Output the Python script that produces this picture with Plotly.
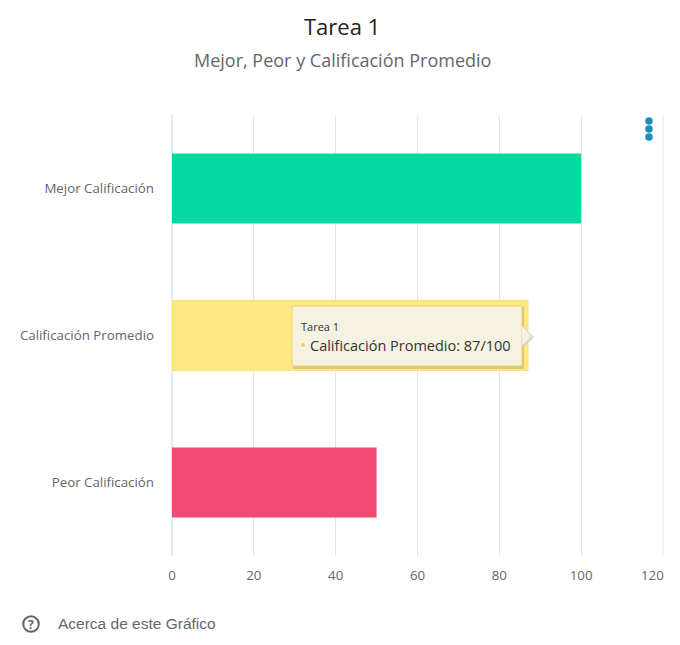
import plotly.graph_objects as go

categories = ['Mejor Calificación', 'Calificación Promedio', 'Peor Calificación']
scores = [100, 87, 50]
bar_colors = ['#06d8a1', '#ffe880', '#f24a72']
bar_edges = ['#06d8a1', '#fbe07a', '#f24a72']
bar_edge_widths = [0, 1, 0]
x_ticks = [0, 20, 40, 60, 80, 100, 120]
x_tick_labels = ['0', '20', '40', '60', '80', '100', '']

W, H = 680, 645
L, R, T, B = 172, 663, 115, 556


# pixel position in the page -> paper coordinates
def px(x):
    return (x - L) / (R - L)


def py(y):
    return (B - y) / (B - T)


def text(x, y, s, size, color, family='Open Sans', anchor='left'):
    return dict(x=px(x), y=py(y), xref='paper', yref='paper', text=s, showarrow=False, xanchor=anchor,
                yanchor='middle', borderpad=0, borderwidth=0, font=dict(size=size, color=color, family=family))


def rect(x0, y0, x1, y1, fill, line=None):
    return dict(type='rect', xref='paper', yref='paper', x0=px(x0), x1=px(x1), y0=py(y0), y1=py(y1),
                fillcolor=fill, line=dict(color=line or fill, width=1 if line else 0), layer='above')


def dot(x, y, r, fill, line=None, width=0):
    return dict(type='circle', xref='paper', yref='paper', x0=px(x - r), x1=px(x + r), y0=py(y - r), y1=py(y + r),
                fillcolor=fill, line=dict(color=line or fill, width=width), layer='above')


def tri(points, fill):
    d = 'M ' + ' L '.join(f'{px(a):.5f} {py(b):.5f}' for a, b in points) + ' Z'
    return dict(type='path', xref='paper', yref='paper', path=d, fillcolor=fill, line=dict(width=0), layer='above')


def vline(pos, color):
    return dict(type='line', xref='paper', yref='paper', x0=pos, x1=pos, y0=0, y1=1,
                line=dict(color=color, width=1), layer='below')


fig = go.Figure(go.Bar(y=categories, x=scores, orientation='h', width=0.475,
                       marker=dict(color=bar_colors, line=dict(color=bar_edges, width=bar_edge_widths)),
                       hoverinfo='skip'))

shapes = [
    vline(0, '#c8d6e6'),
    vline(1, '#e2e6ea'),
    # tooltip shadow + box + pointer
    tri([(524, 327), (534, 337), (524, 347)], '#d8d8d0'),
    rect(293, 307, 524, 369, '#dcc66e'),
    rect(292, 306, 522, 366, '#f6f2e2', '#eccf70'),
    tri([(522, 326), (531, 336), (522, 346)], '#f6f2e2'),
    dot(303, 345, 2, '#f5c86a'),
    # menu dots
    dot(649, 121, 3.8, '#1a8fb8'),
    dot(649, 129, 3.8, '#1a8fb8'),
    dot(649, 137, 3.8, '#1a8fb8'),
    # help icon
    dot(31, 624, 7.8, '#ffffff', '#666666', 2),
]

annotations = [
    text(342, 26, 'Tarea 1', 22, '#222222', anchor='center'),
    text(342, 60, 'Mejor, Peor y Calificación Promedio', 18, '#666666', anchor='center'),
    text(301, 326, 'Tarea 1', 11, '#333333'),
    text(310, 345, 'Calificación Promedio: 87/100', 14.5, '#333333'),
    text(31, 624, '<b>?</b>', 12, '#666666', anchor='center'),
    text(58, 623, 'Acerca de este Gráfico', 15.5, '#666666', family='Liberation Sans'),
    text(652, 575, '120', 13.3, '#666666', anchor='center'),
]

fig.update_layout(
    width=W, height=H, margin=dict(l=L, r=W - R, t=T, b=H - B, autoexpand=False), autosize=False,
    paper_bgcolor='white', plot_bgcolor='white', showlegend=False,
    font=dict(family='Open Sans', size=13.3, color='#666666'),
    shapes=shapes, annotations=annotations,
    xaxis=dict(range=[0, 120], tickmode='array', tickvals=x_ticks, ticktext=x_tick_labels, showgrid=True,
               gridcolor='#e2e6ea', gridwidth=1, zeroline=False, showline=False, ticks='',
               tickfont=dict(size=13.3, color='#666666'), ticklabelstandoff=10),
    yaxis=dict(autorange='reversed', showgrid=False, zeroline=False, showline=False,
               ticks='', tickfont=dict(size=13.3, color='#666666'), ticklabelstandoff=17),
)

fig.write_html("out.html", config=dict(displayModeBar=False),
               post_script="document.body.style.margin='0';document.body.style.overflow='hidden';")
